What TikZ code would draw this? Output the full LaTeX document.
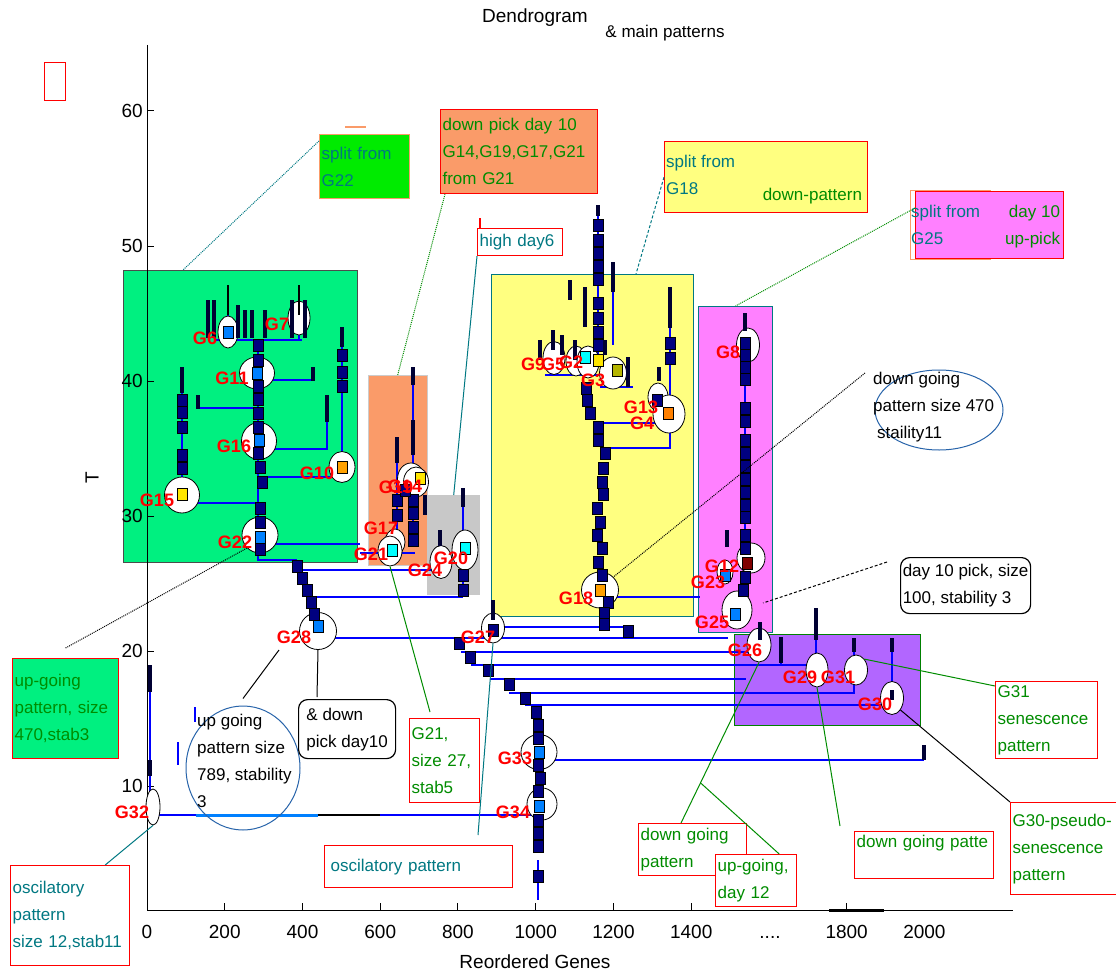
\documentclass[tikz,border=0pt]{standalone}
\usepackage{fontspec}
\setmainfont{Liberation Sans}
\usetikzlibrary{positioning, calc, shapes.geometric}
\definecolor{dgnavy}{RGB}{0, 0, 128}
\definecolor{dgblue}{RGB}{0, 0, 255}
\definecolor{dglight}{RGB}{0, 128, 255}
\definecolor{dgcyan}{RGB}{0, 255, 255}
\definecolor{dgspring}{RGB}{0, 240, 128}
\definecolor{dglime}{RGB}{0, 235, 0}
\definecolor{dgsalmon}{RGB}{250, 155, 105}
\definecolor{dgyellow}{RGB}{255, 255, 128}
\definecolor{dgpink}{RGB}{255, 128, 255}
\definecolor{dgpurple}{RGB}{178, 102, 255}
\definecolor{dgteal}{RGB}{0, 120, 130}
\definecolor{dgtext}{RGB}{0, 140, 0}
\definecolor{dgorange}{RGB}{255, 160, 0}
\definecolor{dggold}{RGB}{255, 230, 0}
\definecolor{dgolive}{RGB}{180, 180, 0}
\definecolor{dgdark}{RGB}{128, 0, 0}
\definecolor{dggray}{RGB}{200, 200, 200}
\definecolor{dgsteel}{RGB}{40, 100, 170}
\newcommand{\notefont}{\fontsize{17}{27}\selectfont}
\newcommand{\axisfont}{\fontsize{19}{19}\selectfont}
\newcommand{\gfont}{\bfseries\fontsize{18}{18}\selectfont}

\begin{document}
\begin{tikzpicture}[x=1pt, y=-1pt,
    treeline/.style={dgblue, line width=1.5pt},
    sq/.style={fill=dgnavy, draw=black, line width=0.6pt},
    stub/.style={draw=dgnavy!40!black, line width=4.5pt},
    gnode/.style={ellipse, draw=black, fill=white, line width=0.8pt, inner sep=0pt},
    gname/.style={text=red, font=\gfont, inner sep=0pt},
    note/.style={draw=red, line width=1.2pt, fill=white, anchor=north west, align=left, inner sep=2pt, font=\notefont},
    leader/.style={line width=1pt},
    axlbl/.style={font=\axisfont, inner sep=0pt}]

\useasboundingbox (0,0) rectangle (1116,979);

% === Titel ===
\node[font=\axisfont] (title) at (535,18) {Dendrogram};
\node[font=\notefont] (subtitle) at (665,33) {\& main patterns};
\node[draw=red, line width=1.2pt, minimum width=21pt, minimum height=38pt, anchor=north west] (mark) at (44,62) {};

% === Hintergrundfelder der Gruppen ===
\node[draw=black!70, fill=dgspring, line width=1pt, minimum width=234pt, minimum height=292pt, anchor=north west, inner sep=0pt] (boxG) at (123,270) {};
\node[draw=gray!40, fill=dgsalmon, minimum width=59pt, minimum height=190pt, anchor=north west, inner sep=0pt] (boxO) at (368,375) {};
\node[fill=dggray, minimum width=53pt, minimum height=100pt, anchor=north west, inner sep=0pt] (boxS) at (427,495) {};
\node[draw=dgteal, fill=dgyellow, line width=1pt, minimum width=202pt, minimum height=342pt, anchor=north west, inner sep=0pt] (boxY) at (491,274) {};
\node[draw=dgteal, fill=dgpink, line width=1pt, minimum width=74pt, minimum height=326pt, anchor=north west, inner sep=0pt] (boxM) at (698,306) {};
\node[draw=green!50!black, fill=dgpurple, line width=1pt, minimum width=186pt, minimum height=91pt, anchor=north west, inner sep=0pt] (boxP) at (734,634) {};

% === Achsen ===
\draw[line width=1pt] (147,45) -- (147,910) -- (1013,910);
\foreach \v in {10,20,...,60} {
    \draw[line width=1pt] (147,{786-(\v-10)*13.5}) -- ++(7,0);
    \node[axlbl, anchor=east] (ty\v) at (143,{786-(\v-10)*13.5}) {\v};
}
\foreach \v in {200,400,...,1400,1800}
    \draw[line width=1pt] ({147+\v*0.3887},910) -- ++(0,-7);
\foreach \v in {0,200,...,1400,1800,2000}
    \node[axlbl, anchor=base] (tx\v) at ({147+\v*0.3887},938) {\v};
\draw[line width=3pt] (829,910) -- (884,910);
\node[axlbl, anchor=base] (tdots) at (770,938) {....};
\node[axlbl] (xlab) at (535,962) {Reordered Genes};
\node[axlbl, rotate=90] (ylab) at (92,478) {T};

% === Dendrogramm: Linien ===
\draw[treeline] (258,340) -- (258,560) -- (297,560);
\draw[treeline] (215,340) -- (302,340);
\draw[treeline] (228,315) -- (228,340);
\draw[treeline] (299,315) -- (299,340);
\draw[treeline] (258,380) -- (313,380);
\draw[treeline] (258,408) -- (198,408);
\draw[treeline] (258,449) -- (327,449) -- (327,422);
\draw[treeline] (258,477) -- (342,477) -- (342,347);
\draw[treeline] (258,503) -- (182,503) -- (182,393);
\draw[treeline] (258,544) -- (360,544);
\draw[treeline] (413,385) -- (413,545);
\draw[treeline] (397,463) -- (397,553);
\draw[treeline] (360,553) -- (415,553);
\draw[treeline] (463,507) -- (463,597);
\draw[treeline] (440,546) -- (440,570);
\draw[treeline] (300,570) -- (440,570);
\draw[treeline] (311,597) -- (463,597);
\draw[treeline] (150,668) -- (150,815) -- (536,815);
\draw[dglight, line width=3pt] (196,815) -- (318,815);
\draw[black, line width=1.5pt] (318,815) -- (380,815);
\draw[treeline] (318,638) -- (728,638);
\draw[treeline] (461,652) -- (760,652) -- (760,640);
\draw[treeline] (471,665) -- (816,665) -- (816,640);
\draw[treeline] (781,663) -- (781,665);
\draw[treeline] (490,679) -- (746,679);
\draw[treeline] (509,693) -- (854,693) -- (854,652);
\draw[treeline] (525,705) -- (892,705) -- (892,652);
\draw[treeline] (539,760) -- (924,760);
\draw[treeline] (538,860) -- (538,900);
\draw[treeline] (598,216) -- (598,360);
\draw[treeline] (613,292) -- (613,345);
\draw[treeline] (545,375) -- (628,375);
\draw[treeline] (600,387) -- (633,387);
\draw[treeline] (598,423) -- (660,423);
\draw[treeline] (603,448) -- (670,448) -- (670,328);
\draw[treeline] (600,597) -- (700,597);
\draw[treeline] (493,620) -- (493,627) -- (628,627);
\draw[treeline] (745,331) -- (745,612);
\draw[dgblue, line width=2pt] (195,707) -- (195,722);
\draw[dgblue, line width=2pt] (178,742) -- (178,765);

% === Gruppenknoten ===
\foreach \n/\x/\y/\w/\h in {g6/228/332/20/32, g7/299/318/22/34, g11/257/373/35/32,
    g16/259/441/35/37, g10/342/467/26/31, g15/182/495/35/36, g22/260/535/36/36,
    g19/411/479/27/32, g14/416/482/25/30, g17/395/542/20/26, g21/390/551/24/30,
    g24/441/562/22/33, g20/465/550/26/40, g9/554/358/22/33, g5/576/361/20/30,
    g2/588/362/22/32, g3/613/373/27/32, g13/658/397/20/28, g4/669/414/32/38,
    g18/600/590/37/36, g8/748/345/23/34, g12/751/558/28/30, g23/725/572/16/24,
    g25/737/610/30/38, g26/759/645/24/34, g29/817/670/22/34, g31/856/670/23/30,
    g30/892/698/23/33, g28/318/631/37/37, g27/493/628/23/30, g33/539/752/36/35,
    g34/542/804/30/32, g32/153/807/14/36}
    \node[gnode, minimum width=\w, minimum height=\h] (\n) at (\x,\y) {};

% === Dendrogramm: Blöcke ===
\foreach \x/\y in {258/345, 258/360, 258/386, 258/399, 258/413, 258/427, 258/453,
    260/467, 262/482, 260/508, 260/522, 260/549, 182/400, 182/412, 182/427, 182/455,
    182/468, 342/355, 342/372, 342/386, 413/500, 413/513, 413/527, 413/540, 397/500,
    397/515, 405/490, 463/575, 463/590, 297/566, 302/578, 307/590, 311/602, 314/614,
    598/225, 598/240, 598/253, 598/266, 598/279, 598/303, 598/318, 598/332, 598/345,
    586/388, 587/400, 590/413, 598/427, 598/440, 605/453, 603/468, 602/482, 603/494,
    597/508, 600/522, 597/535, 602/548, 598/562, 602/575, 608/602, 604/613, 604/624,
    628/631, 670/343, 670/358, 657/400, 745/343, 745/355, 745/367, 745/379, 745/408,
    745/421, 745/440, 745/453, 745/466, 745/479, 745/492, 745/505, 745/517, 745/535,
    745/548, 745/577, 743/590, 493/630, 459/643, 470/657, 488/670, 509/684, 525/698,
    536/712, 538/725, 538/738, 538/765, 540/778, 538/791, 538/820, 538/833, 538/846,
    538/876}
    \filldraw[sq] (\x-5,\y-6) rectangle (\x+5,\y+6);
\foreach \x/\y/\c in {228/332/dglight, 257/373/dglight, 259/440/dglight, 260/537/dglight,
    182/494/dggold, 342/467/dgorange, 318/626/dglight, 392/550/dgcyan, 465/548/dgcyan,
    420/478/dggold, 585/357/dgcyan, 598/360/dggold, 617/370/dgolive, 668/413/orange,
    600/590/dgorange, 747/563/dgdark, 735/614/dglight, 725/575/dglight, 539/752/dglight,
    539/806/dglight}
    \filldraw[sq, fill=\c] (\x-5,\y-6) rectangle (\x+5,\y+6);
\foreach \x/\a/\b in {208/300/338, 214/300/338, 238/305/338, 245/310/338, 252/310/338,
    265/310/338, 292/300/338, 305/300/338, 313/367/381, 198/395/409, 327/395/422,
    342/327/347, 182/367/393, 413/367/385, 413/420/455, 397/437/463, 425/495/515,
    440/530/546, 463/488/507, 598/205/216, 613/262/292, 540/340/360, 553/330/350,
    562/335/355, 570/280/300, 575/340/360, 585/287/327, 605/340/355, 628/357/387,
    670/287/328, 659/367/381, 745/313/331, 727/530/547, 760/622/640, 781/637/663,
    816/608/640, 854/638/652, 892/638/652, 892/690/700, 493/600/620, 924/745/760,
    150/665/692, 150/760/776}
    \draw[stub] (\x,\a) -- (\x,\b);
\draw[black, line width=1.5pt] (228,285) -- (228,315);
\draw[black, line width=1.5pt] (299,285) -- (299,315);

% === Gruppennamen ===
\foreach \n/\x/\y in {G6/205/338, G7/277/324, G11/232/378, G16/234/446, G10/317/473,
    G15/157/500, G22/235/542, G19/396/487, G14/405/486, G17/381/528, G21/371/554,
    G24/425/570, G20/451/558, G9/533/364, G5/553/364, G2/571/362, G3/593/380,
    G13/641/407, G4/642/423, G18/576/598, G8/728/352, G12/722/566, G23/708/582,
    G25/712/622, G26/745/650, G29/800/677, G31/838/677, G30/875/704, G28/294/637,
    G27/478/637, G33/515/758, G34/513/812, G32/132/812}
    \node[gname] (l\n) at (\x,\y) {\n};

% === Anmerkungen ===
\draw[dgsalmon, line width=1.5pt] (345,127) -- (366,127);
\draw[red, line width=1.5pt] (480,218) -- (480,228);
\node[note, draw=dgsalmon, fill=dglime, text=dgteal, text width=86pt, minimum height=64pt] (n22) at (319,134) {split from\\G22};
\node[note, fill=dgsalmon, text=dgtext, text width=153pt, minimum height=84pt] (npick) at (440,109) {down pick day 10\\G14,G19,G17,G21\\from G21};
\node[note, text=dgteal, text width=81pt, minimum height=27pt] (nhigh) at (477,228) {high day6};

\node[note, fill=dgyellow, minimum width=203pt, minimum height=71pt] (nsplit18) at (664,141) {};
\node[anchor=north west, align=left, text=dgteal, font=\notefont, inner sep=0pt] (t18) at ([shift={(2pt,-14pt)}]nsplit18.north west) {split from\\G18};
\node[anchor=base east, text=dgtext, font=\notefont, inner sep=0pt] (t18b) at ([shift={(-6pt,-59pt)}]nsplit18.north east) {down-pattern};

\draw[dgsalmon, line width=1pt] (910,190) rectangle (990,259);
\node[note, fill=dgpink, minimum width=148pt, minimum height=67pt] (nsplit25) at (915,191) {};
\node[anchor=north west, align=left, text=dgteal, font=\notefont, inner sep=0pt] (t25) at ([shift={(-4pt,-14pt)}]nsplit25.north west) {split from\\G25};
\node[anchor=north east, align=right, text=dgtext, font=\notefont, inner sep=0pt] (t25b) at ([shift={(-4pt,-14pt)}]nsplit25.north east) {day 10\\up-pick};

\node[ellipse, draw=dgsteel, line width=1pt, minimum width=128pt, minimum height=80pt] (e470) at (939,410) {};
\node[anchor=north west, align=left, font=\notefont, inner sep=0pt] (t470) at (873,372) {down going\\pattern size 470\\\hspace*{4pt}staility11};
\node[note, draw=black, rounded corners=9pt, minimum width=130pt, minimum height=56pt, inner sep=0pt] (npick100) at (900,557) {day 10 pick, size\\100, stability 3};

\node[note, text=dgtext, text width=98pt, minimum height=77pt] (nG31) at (995,681) {G31\\senescence\\pattern};
\node[note, text=dgtext, text width=106pt, minimum height=92pt] (nG30) at (1010,802) {G30-pseudo-\\senescence\\pattern};
\node[note, text=dgtext, text width=135pt, minimum height=47pt] (npatte) at (854,831) {down going patte\\\mbox{}};
\node[note, text=dgtext, text width=104pt, minimum height=52pt] (ndownpat) at (638,823) {down going\\pattern};
\node[note, text=dgtext, text width=77pt, minimum height=52pt] (nday12) at (715,854) {up-going,\\day 12};
\node[note, text=dgteal, text width=184pt, minimum height=42pt] (nosc) at (324,845) {\hspace*{4pt}oscilatory pattern};
\node[note, text=dgtext, text width=66pt, minimum height=84pt] (nG21) at (409,718) {G21,\\size 27,\\stab5};

\node[ellipse, draw=dgsteel, line width=1pt, minimum width=114pt, minimum height=124pt] (e789) at (243,768) {};
\node[anchor=north west, align=left, font=\notefont, inner sep=0pt] (t789) at (197,714) {up going\\pattern size\\789, stability\\3};
\node[note, draw=black, rounded corners=9pt, minimum width=97pt, minimum height=59pt, inner sep=0pt] (ndown10) at (298,699) {\& down\\pick day10};
\node[note, fill=dgspring, text=dgtext, text width=102pt, minimum height=100pt] (n470up) at (12,658) {up-going\\pattern, size\\470,stab3};
\node[note, text=dgteal, text width=115pt, minimum height=100pt] (nosc12) at (10,865) {oscilatory\\pattern\\size 12,stab11};

% === Hinweislinien ===
\coordinate (c789) at (279,650);
\coordinate (c100) at (763,603);
\draw[leader, dgteal, densely dotted] ([yshift=-7pt]n22.north west) -- ([xshift=60pt]boxG.north west);
\draw[leader, dgtext, densely dotted] ([xshift=5pt]npick.south west) -- (boxO.north);
\draw[leader, dgteal] (nhigh.south west) -- (boxS.north);
\draw[leader, dgteal, densely dashed] (nsplit18.west) -- ([xshift=145pt]boxY.north west);
\draw[leader, dgtext, densely dotted] ([yshift=-17pt]nsplit25.north west) -- (boxM.north);
\draw[leader, densely dotted] ([shift={(-8pt,-1pt)}]t470.north west) -- (g18.north east);
\draw[leader, densely dashed] ([shift={(-13pt,-5pt)}]npick100.north west) -- (c100);
\draw[leader, dgtext] ([yshift=-5pt]nG31.north west) -- (g31.north east);
\draw[leader] (nG30.north west) -- (g30.south east);
\draw[leader, dgtext] ([shift={(-14pt,5pt)}]npatte.north west) -- (g29.south);
\draw[leader, dgtext] ([xshift=43pt]ndownpat.north west) coordinate (a1) -- (g26.south) coordinate (a2);
\coordinate (cjoin) at ($(a1)!0.25!(a2)$);
\draw[leader, dgtext] ([xshift=-18pt]nday12.north east) -- (cjoin);
\draw[leader, dgteal] ([shift={(154pt,10pt)}]nosc.north west) -- (g27.south);
\draw[leader, dgtext] ([shift={(21pt,6pt)}]nG21.north west) -- (g21.south);
\draw[leader] ([yshift=7pt]e789.north) -- (c789);
\draw[leader] ([shift={(19pt,2pt)}]ndown10.north west) -- (g28.south);
\draw[leader, densely dotted] ([yshift=10pt]n470up.north) -- (g22.south west);
\draw[leader, dgteal] ([xshift=-25pt]nosc12.north east) -- (g32.south);

\end{tikzpicture}
\end{document}
